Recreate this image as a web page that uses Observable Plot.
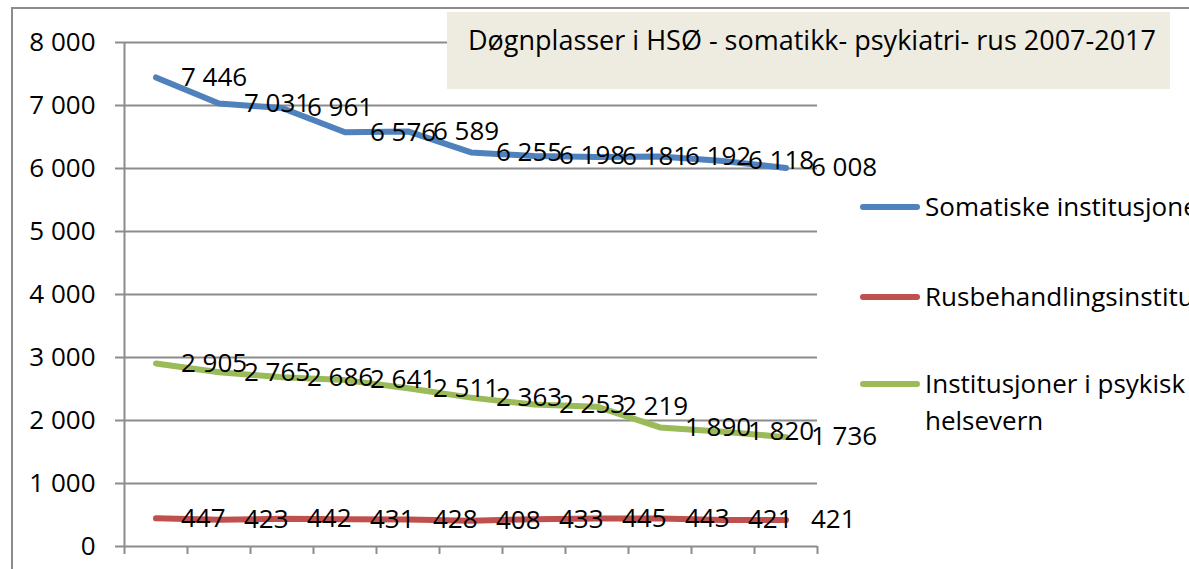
<!DOCTYPE html>
<html>
<head>
<meta charset="utf-8">
<script src="https://cdn.jsdelivr.net/npm/d3@7"></script>
<script src="https://cdn.jsdelivr.net/npm/@observablehq/plot@0.6"></script>
<style>
  html, body { margin: 0; padding: 0; background: #fff; }
  #wrap { position: relative; width: 1189px; height: 569px; overflow: hidden; font-family: "Open Sans", sans-serif; }
  #frame { position: absolute; left: 11px; top: 7px; width: 1400px; height: 800px; border: 2px solid #8c8c8c; box-sizing: border-box; }
  #chart { position: absolute; left: 0; top: 0; }
  #title { position: absolute; left: 447px; top: 12px; width: 723px; height: 77px; background: #EEECE1; font-size: 27px; line-height: 27px; color: #000; box-sizing: border-box; padding: 14px 0 0 21px; white-space: nowrap; overflow: hidden; }
  .leg { position: absolute; left: 860px; font-size: 26px; line-height: 37px; color: #000; white-space: nowrap; }
  .leg .sw { position: absolute; left: 0; width: 60px; height: 6px; border-radius: 3px; }
  .leg .tx { position: absolute; left: 65px; top: -19px; }
</style>
</head>
<body>
<div id="wrap">
  <div id="frame"></div>
  <div id="chart"></div>
  <div id="title"></div>
  <div id="legend"></div>
</div>
<script>
const years = [2007, 2008, 2009, 2010, 2011, 2012, 2013, 2014, 2015, 2016, 2017];
const somatikk = [7446, 7031, 6961, 6576, 6589, 6255, 6198, 6181, 6192, 6118, 6008];
const rus = [447, 423, 442, 431, 428, 408, 433, 445, 443, 421, 421];
const psyk = [2905, 2765, 2686, 2641, 2511, 2363, 2253, 2219, 1890, 1820, 1736];
const seriesNames = ["Somatiske institusjoner", "Rusbehandlingsinstitusjoner", "Institusjoner i psykisk helsevern"];
const seriesColors = ["#4F81BD", "#C0504D", "#9BBB59"];
const yTicks = [0, 1000, 2000, 3000, 4000, 5000, 6000, 7000, 8000];
const titleText = "Døgnplasser i HSØ - somatikk- psykiatri- rus 2007-2017";

const seriesValues = [somatikk, rus, psyk];
const data = [];
seriesValues.forEach((vals, s) => {
  vals.forEach((v, i) => data.push({year: years[i], value: v, series: seriesNames[s]}));
});
const fmt = v => d3.format(",")(v).replace(/,/g, " ");
const boundaries = d3.range(years.length + 1).map(i => years[0] - 0.5 + i);
const gray = "#8c8c8c";

const chart = Plot.plot({
  width: 1189,
  height: 569,
  marginLeft: 124,
  marginRight: 372,
  marginTop: 42,
  marginBottom: 23,
  style: {fontFamily: "'Open Sans', sans-serif", fontSize: "26px", color: "#000", background: "transparent", overflow: "visible"},
  x: {type: "linear", domain: [years[0] - 0.5, years[years.length - 1] + 0.5]},
  y: {domain: [0, 8000]},
  color: {domain: seriesNames, range: seriesColors},
  marks: [
    Plot.gridY(yTicks, {stroke: gray, strokeOpacity: 1, strokeWidth: 2}),
    Plot.ruleX([years[0] - 0.5], {stroke: gray, strokeWidth: 2}),
    Plot.axisY({ticks: yTicks, tickSize: 9, tickPadding: 20, tickFormat: fmt, stroke: gray, strokeWidth: 2, fontSize: 26, label: null}),
    Plot.axisX({ticks: boundaries, tickSize: 8, tickPadding: 0, tickFormat: () => "", stroke: gray, strokeWidth: 2, label: null}),
    Plot.line(data, {x: "year", y: "value", z: "series", stroke: "series", strokeWidth: 6, strokeLinejoin: "round", strokeLinecap: "round"}),
    Plot.text(data, {x: "year", y: "value", text: d => fmt(d.value), dx: 25, textAnchor: "start", fontSize: 26, fill: "#000"})
  ]
});
document.getElementById("chart").appendChild(chart);
document.getElementById("title").textContent = titleText;

const legendTops = [207, 297, 384];
const legendLabels = ["Somatiske institusjoner", "Rusbehandlingsinstitusjoner", "Institusjoner i psykisk<br>helsevern"];
const leg = document.getElementById("legend");
seriesNames.forEach((name, i) => {
  const d = document.createElement("div");
  d.className = "leg";
  d.style.top = legendTops[i] + "px";
  d.innerHTML = `<div class="sw" style="top:-3px;background:${seriesColors[i]}"></div><div class="tx">${legendLabels[i]}</div>`;
  leg.appendChild(d);
});
</script>
</body>
</html>
